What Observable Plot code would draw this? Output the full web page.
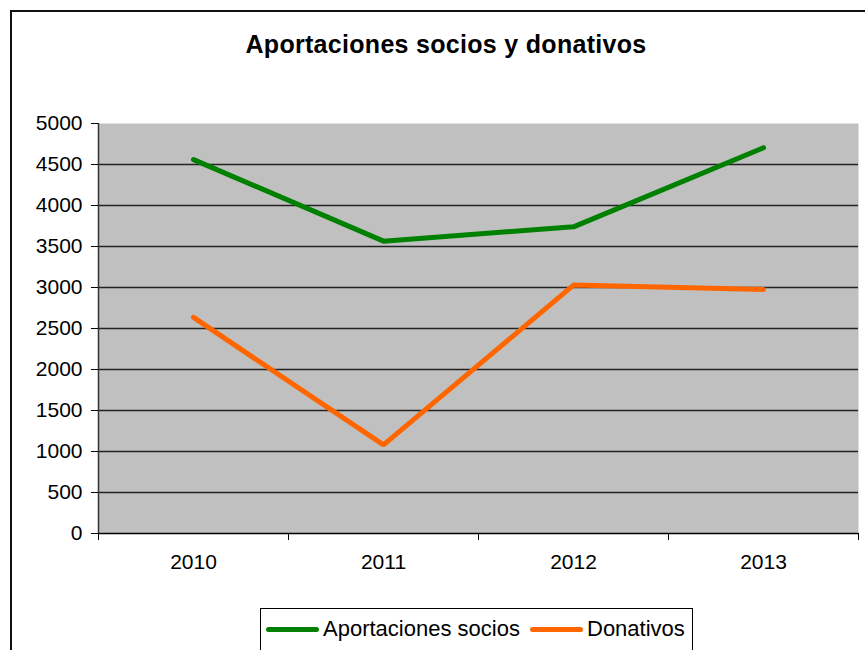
<!DOCTYPE html>
<html>
<head>
<meta charset="utf-8">
<script src="https://cdn.jsdelivr.net/npm/d3@7"></script>
<script src="https://cdn.jsdelivr.net/npm/@observablehq/plot@0.6"></script>
<style>
  html, body { margin: 0; padding: 0; background: #fff; }
  #wrap { position: relative; width: 865px; height: 650px; overflow: hidden; font-family: "Liberation Sans", Arial, sans-serif; }
  #border { position: absolute; left: 10px; top: 10px; width: 900px; height: 700px; border-left: 2px solid #111; border-top: 2px solid #111; }
  #title { position: absolute; left: 0; width: 892px; top: 30px; text-align: center; font-weight: bold; font-size: 25px; color: #000; letter-spacing: 0.3px; }
  #chart { position: absolute; left: 0; top: 0; }
  #legend { position: absolute; left: 260px; top: 608px; width: 431px; height: 60px; border: 1px solid #000; background: #fff; }
  .item { position: absolute; top: 5px; font-size: 22px; line-height: 30px; white-space: nowrap; }
  .sw { display: inline-block; width: 53px; height: 5px; border-radius: 3px; vertical-align: middle; margin-right: 4px; position: relative; top: -1px; }
</style>
</head>
<body>
<div id="wrap">
  <div id="border"></div>
  <div id="chart"></div>
  <div id="title"></div>
  <div id="legend"></div>
</div>
<script>
const titleText = "Aportaciones socios y donativos";
const years = [2010, 2011, 2012, 2013];
const seriesNames = ["Aportaciones socios", "Donativos"];
const aportaciones = [4560, 3565, 3740, 4705];
const donativos = [2635, 1080, 3030, 2975];
const seriesColors = ["#008000", "#FF6600"];
const yTicks = [0, 500, 1000, 1500, 2000, 2500, 3000, 3500, 4000, 4500, 5000];

const rows = [];
years.forEach((y, i) => rows.push({year: y, value: aportaciones[i], series: seriesNames[0]}));
years.forEach((y, i) => rows.push({year: y, value: donativos[i], series: seriesNames[1]}));

const bounds = [years[0] - 0.5, ...years.map(y => y + 0.5)];
const gridTicks = yTicks.filter(t => t > 0 && t < 5000);

const plot = Plot.plot({
  width: 865,
  height: 650,
  marginLeft: 98,
  marginRight: 7,
  marginTop: 123,
  marginBottom: 117,
  style: {fontFamily: "Liberation Sans, Arial, sans-serif", background: "transparent", color: "#000"},
  x: {type: "linear", domain: [bounds[0], bounds[bounds.length - 1]]},
  y: {domain: [0, 5000]},
  color: {domain: seriesNames, range: seriesColors},
  marks: [
    Plot.frame({fill: "#C0C0C0", stroke: null}),
    Plot.ruleY(gridTicks, {stroke: "#222", strokeWidth: 1.3}),
    Plot.ruleY([0], {stroke: "#000", strokeWidth: 1.5}),
    Plot.ruleX([bounds[0]], {stroke: "#333", strokeWidth: 1.5}),
    Plot.axisY({ticks: yTicks, tickSize: 7, tickPadding: 9, fontSize: 21, tickFormat: d => String(d), label: null, stroke: "#000"}),
    Plot.axisX({ticks: bounds, tickSize: 7, tickFormat: () => "", label: null, stroke: "#000"}),
    Plot.axisX({ticks: years, tickSize: 0, tickPadding: 21, fontSize: 21, tickFormat: d => String(d), label: null}),
    Plot.line(rows, {x: "year", y: "value", z: "series", stroke: "series", strokeWidth: 5, strokeLinecap: "round", strokeLinejoin: "miter"})
  ]
});
document.getElementById("chart").appendChild(plot);
document.getElementById("title").textContent = titleText;

const legend = document.getElementById("legend");
const lefts = [5, 269];
seriesNames.forEach((name, i) => {
  const it = document.createElement("div");
  it.className = "item";
  it.style.left = lefts[i] + "px";
  const sw = document.createElement("span");
  sw.className = "sw";
  sw.style.background = seriesColors[i];
  it.appendChild(sw);
  it.appendChild(document.createTextNode(name));
  legend.appendChild(it);
});
</script>
</body>
</html>
